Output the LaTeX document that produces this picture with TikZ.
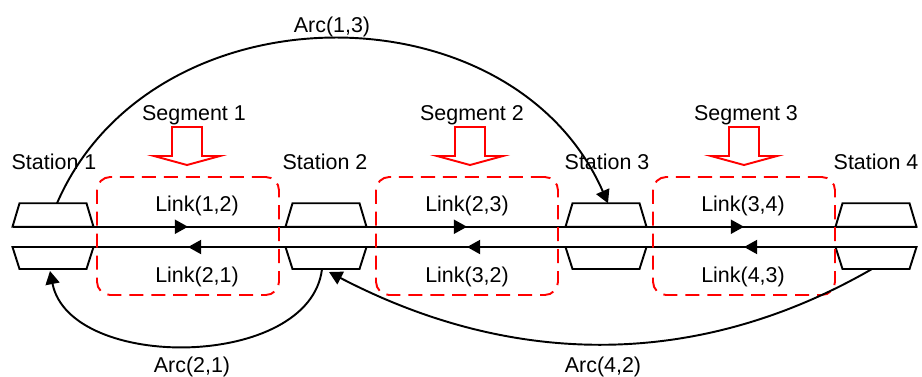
\documentclass[tikz,border=0pt]{standalone}
\usepackage{fontspec}
\setmainfont{Liberation Sans}
\usetikzlibrary{arrows.meta}

\begin{document}
\begin{tikzpicture}[x=0.02cm, y=-0.02cm, line width=1.1pt,
  every node/.style={font=\fontsize{12.2}{14}\selectfont, inner sep=0pt, anchor=base},
  platform/.style={rectangle, anchor=center, minimum width=1.62cm, minimum height=0.47cm, outer sep=0pt},
  segbox/.style={draw=red, anchor=center, dash pattern=on 8pt off 4.5pt, rounded corners=7.5pt,
    minimum width=3.64cm, minimum height=2.36cm},
  tip/.style={-{Triangle[length=7.5pt,width=8pt]}},
  segarrow/.style={draw=red}]

\useasboundingbox (0,0) rectangle (922,376);

% stations
\foreach \i/\x/\lx in {1/53/54, 2/326/325, 3/606/607, 4/876/876} {
  \node[platform] (up\i) at (\x,215) {};
  \node[platform, minimum height=0.44cm] (dn\i) at (\x,258) {};
  \draw (up\i.south west) -- ([xshift=0.14cm]up\i.north west) -- ([xshift=-0.14cm]up\i.north east)
    -- (up\i.south east) -- cycle;
  \draw (dn\i.north west) -- ([xshift=0.14cm]dn\i.south west) -- ([xshift=-0.14cm]dn\i.south east)
    -- (dn\i.north east) -- cycle;
  \node (st\i) at (\lx,169) {Station \i};
}

% tracks
\draw (up1.south west) -- (up4.south east);
\draw (dn1.north west) -- (dn4.north east);

% segments
\foreach \i/\x/\lx/\a/\b in {1/188/197/1/2, 2/467/467/2/3, 3/744/743/3/4} {
  \node[segbox] (sb\i) at (\x,236) {};
  \node (lk\a\b) at (\lx,211) {Link(\a,\b)};
  \node (lk\b\a) at (\lx,282) {Link(\b,\a)};
  \draw[tip] (up\a.south east) -- (sb\i.center |- up\a.south east);
  \draw[tip] (dn\b.north west) -- (sb\i.center |- dn\b.north west);
}

\foreach \i/\x/\lx in {1/187/194, 2/470/472, 3/744/746} {
  \draw[segarrow] (\x-15,127) -- (\x+15,127) -- (\x+15,156) -- (\x+33,156) -- (\x,165)
    -- (\x-33,156) -- (\x-15,156) -- cycle;
  \node (sg\i) at (\lx,120) {Segment \i};
}

% arcs
\draw[tip] ([xshift=0.08cm]up1.north) .. controls +(95,-219) and +(-96,-219) .. ([xshift=0.04cm]up3.north);
\draw[tip] ([xshift=-0.08cm]dn2.south) .. controls +(-12,101) and +(20,101)
  .. ([xshift=-0.06cm,yshift=-0.04cm]dn1.south);
\draw[tip] ([xshift=-0.08cm]dn4.south) .. controls +(-172,99) and +(186,97)
  .. ([xshift=0.06cm,yshift=-0.06cm]dn2.south);

\node (a13) at (332,32) {Arc(1,3)};
\node (a21) at (192,372) {Arc(2,1)};
\node (a42) at (603,372) {Arc(4,2)};

\end{tikzpicture}
\end{document}
